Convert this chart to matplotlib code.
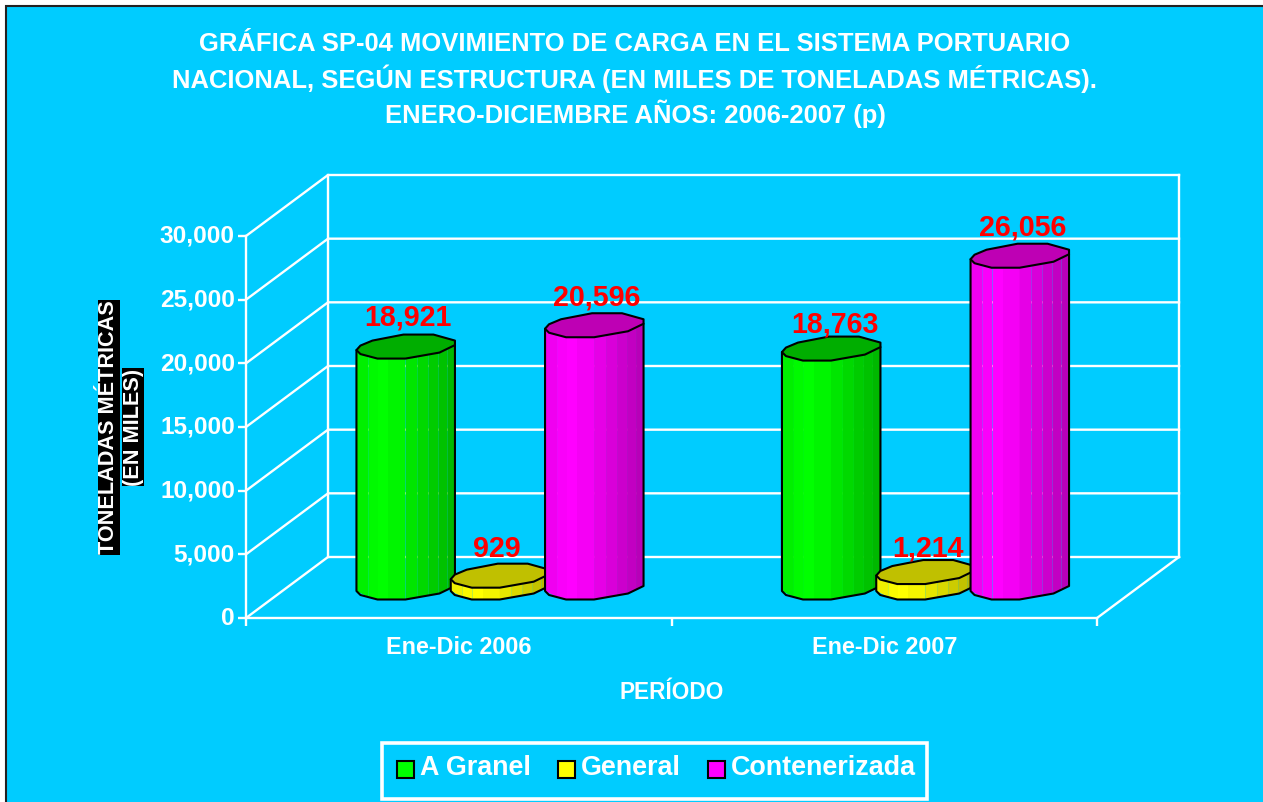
import numpy as np
import matplotlib
matplotlib.use("Agg")
import matplotlib.pyplot as plt
from matplotlib.patches import Polygon, Patch, Rectangle
from matplotlib.ticker import FuncFormatter
from matplotlib.colors import to_rgb
from matplotlib.transforms import ScaledTranslation

plt.rcParams['font.family'] = ['Liberation Sans', 'DejaVu Sans']
plt.rcParams['font.weight'] = 'bold'

# --- data ---
categories = ['Ene-Dic 2006', 'Ene-Dic 2007']
a_granel = [18921, 18763]
general = [929, 1214]
contenerizada = [20596, 26056]
series_names = ['A Granel', 'General', 'Contenerizada']
y_ticks = [0, 5000, 10000, 15000, 20000, 25000, 30000]
title_text = ('GRÁFICA SP-04 MOVIMIENTO DE CARGA EN EL SISTEMA PORTUARIO\n'
              'NACIONAL, SEGÚN ESTRUCTURA (EN MILES DE TONELADAS MÉTRICAS).\n'
              'ENERO-DICIEMBRE AÑOS: 2006-2007 (p)')

# --- style ---
W, H = 1263, 802
BG = '#00CCFF'
side_colors = ['#00FF00', '#FFFF00', '#FF00FF']
top_colors = ['#00AE00', '#C0C000', '#BE00B4']
# label nudges in pixels (x, y-down) per group, per series
label_nudge = [[(-2, 1), (-7, 3), (-1, 2)], [(0, 6), (-1, 6), (-1, 2)]]

fig = plt.figure(figsize=(W / 100, H / 100), dpi=100, facecolor='white')
fig.add_artist(Rectangle((6 / W, -0.01), 1.0, 1 - 6 / H + 0.01, transform=fig.transFigure,
                         facecolor=BG, edgecolor='#222222', linewidth=1.5, zorder=-5))

# front plane of the 3-D box, in pixels
L, R, T, B = 246, 1097, 236, 618
ax = fig.add_axes([L / W, 1 - B / H, (R - L) / W, (B - T) / H])
ax.patch.set_alpha(0)
ax.set_xlim(0, len(categories))
ax.set_ylim(0, 30000)
for s in ax.spines.values():
    s.set_visible(False)

ux = (R - L) / len(categories)      # pixels per x unit
uy = (B - T) / 30000                # pixels per value unit
DX, DY = 82 / ux, 61 / uy           # chart depth in data units


def line(xs, ys, **kw):
    ax.plot(xs, ys, color='white', lw=1.7, clip_on=False, solid_capstyle='projecting', zorder=1, **kw)


nc = len(categories)
for v in y_ticks:
    line([0, DX, nc + DX], [v, v + DY, v + DY])
line([DX, DX], [DY, 30000 + DY])
line([nc + DX, nc + DX], [DY, 30000 + DY])
line([nc, nc + DX], [0, DY])
line([0, nc], [0, 0])
line([0, 0], [0, 30000])

ax.set_yticks(y_ticks)
ax.yaxis.set_major_formatter(FuncFormatter(lambda v, _: f'{int(v):,}'))
ax.set_xticks(range(nc + 1))
ax.set_xticklabels([])
ax.set_xticks([i + 0.5 for i in range(nc)], minor=True)
ax.set_xticklabels(categories, minor=True, fontsize=16.85, color='white', fontweight='bold')
ax.tick_params(axis='x', which='minor', length=0, pad=13)
ax.tick_params(axis='both', which='major', length=6, width=1.7, color='white')
ax.tick_params(axis='y', labelsize=17.6, labelcolor='white', pad=2)
ax.set_xlabel('PERÍODO', fontsize=16.3, color='white', fontweight='bold', labelpad=16)
lift = ScaledTranslation(0, 2 / 72 * 0.72 * 1.0, fig.dpi_scale_trans)
for lab in ax.get_yticklabels():
    lab.set_transform(lab.get_transform() + lift)

# sheared-ellipse outline of the cylinder section, pixel offsets from centre
upper = np.array([(-49, 3.5), (-45, -1), (-33, -6), (-2, -12), (28, -12), (49.5, -6), (49.5, -1.5)])
lower = np.array([(-49, 3.5), (-45, 7.5), (-28, 12), (0, 12), (34, 6), (49.5, -1.5)])
strip_edges = np.array([-49, -37, -27, -17, 0, 12, 23, 33, 42, 49.5])
strip_light = [0.94, 0.98, 1.0, 0.96, 0.90, 0.85, 0.80, 0.76, 0.72]
spacing = 94.3 / ux
bar_shift = 41 / ux


def cylinder(xc, value, side, top, z):
    """Draw a faceted cylinder whose base sits mid-depth of the floor."""
    base = DY / 2
    cx = xc + bar_shift
    px = lambda o: cx + np.asarray(o) / ux
    py = lambda b, o: b - np.asarray(o) / uy
    ytop, ybot = base + value, base
    arc_y = np.interp(strip_edges, lower[:, 0], lower[:, 1])
    rgb = np.array(to_rgb(side))
    for i, light in enumerate(strip_light):
        xs = px(strip_edges[i:i + 2])
        ya = arc_y[i:i + 2]
        verts = [(xs[0], py(ytop, ya[0])), (xs[1], py(ytop, ya[1])),
                 (xs[1], py(ybot, ya[1])), (xs[0], py(ybot, ya[0]))]
        ax.add_patch(Polygon(verts, closed=True, facecolor=tuple(rgb * light),
                             edgecolor='none', clip_on=False, zorder=z))
    # silhouette
    sil = [(px(a), py(ytop, b)) for a, b in upper[:1]]
    sil += [(px(a), py(ybot, b)) for a, b in lower]
    sil += [(px(upper[-1, 0]), py(ytop, upper[-1, 1]))]
    ax.add_patch(Polygon(sil, closed=True, facecolor='none', edgecolor='black', lw=1.5,
                         clip_on=False, zorder=z + 0.1, joinstyle='round'))
    # top face
    face = np.vstack([upper, lower[::-1][1:-1]])
    ax.add_patch(Polygon(np.c_[px(face[:, 0]), py(ytop, face[:, 1])], closed=True,
                         facecolor=top, edgecolor='black', lw=1.5, clip_on=False,
                         zorder=z + 0.2, joinstyle='round'))
    return cx, ytop


series = [a_granel, general, contenerizada]
labels = []
z = 2
for g in range(nc):
    for s, vals in enumerate(series):
        xc = g + 0.5 + (s - 1) * spacing
        cx, ytop = cylinder(xc, vals[g], side_colors[s], top_colors[s], z)
        z += 1
        labels.append((cx, ytop, vals[g], label_nudge[g][s]))
for cx, ytop, v, (nx, ny) in labels:
    ax.annotate(f'{v:,}', (cx, ytop), xytext=((4 + nx) * 0.72, (30 - ny) * 0.72), textcoords='offset points',
                ha='center', va='center', color='red', fontsize=20.6, fontweight='bold',
                annotation_clip=False, zorder=50)

# title
for i, t in enumerate(title_text.split('\n')):
    fig.text(635 / W, 1 - (44 + 35 * i) / H, t, ha='center', va='center', color='white',
             fontsize=18.45, fontweight='bold')

# axis title with black boxes
fig.text(109 / W, 1 - 427.5 / H, 'TONELADAS MÉTRICAS', rotation=90, ha='center', va='center',
         color='white', fontsize=15.6, fontweight='bold',
         bbox=dict(facecolor='black', edgecolor='none', pad=0.5))
fig.text(133 / W, 1 - 427 / H, '(EN MILES)', rotation=90, ha='center', va='center',
         color='white', fontsize=15.6, fontweight='bold',
         bbox=dict(facecolor='black', edgecolor='none', pad=0.5))

# legend
fig.add_artist(Rectangle((382 / W, 1 - 799 / H), 545 / W, 56 / H, transform=fig.transFigure,
                         facecolor='none', edgecolor='white', linewidth=2.6, zorder=-1))
handles = [Patch(facecolor=c, edgecolor='black', lw=1.5) for c in side_colors]
leg = fig.legend(handles, series_names, ncol=3, loc='center', bbox_to_anchor=(656.5 / W, 1 - 768 / H),
                 fontsize=19.4, frameon=False, labelcolor='white', handlelength=0.63,
                 handleheight=0.63, handletextpad=0.22, columnspacing=1.0, borderpad=0, borderaxespad=0)
for h in leg.legend_handles:
    h.set_y(h.get_y() - 2.9)

fig.savefig('out.png', dpi=100, facecolor=fig.get_facecolor())
